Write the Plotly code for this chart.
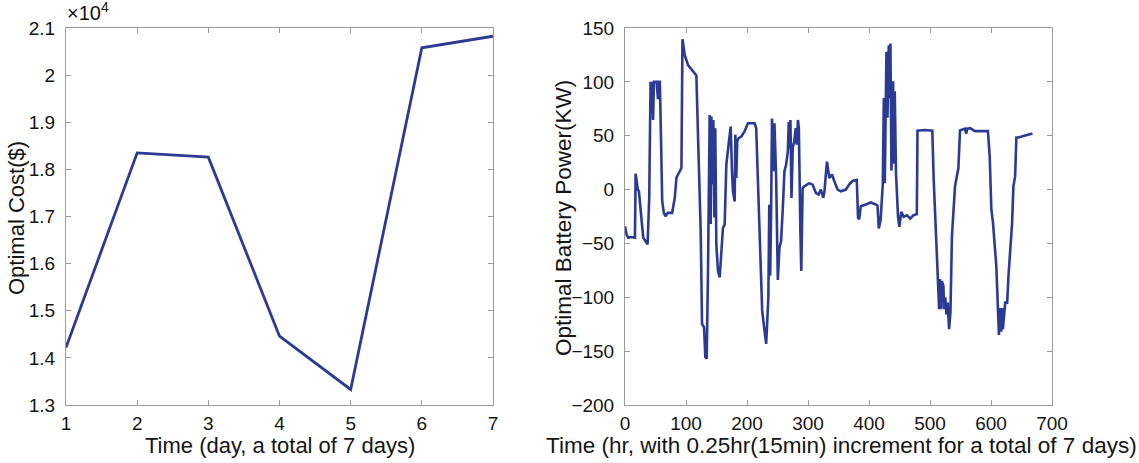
import plotly.graph_objects as go

# ---------------- data ----------------
days = [1, 2, 3, 4, 5, 6, 7]
optimal_cost = [14220, 18350, 18260, 14460, 13330, 20580, 20825]  # dollars
cost_scale = 1e4

time_idx = [0, 2.7, 5.4, 10, 16.3, 17.4, 19, 21, 22.8, 26, 29.9, 35.4, 37, 39.7, 41.9, 43, 44.5, 46,
            47.5, 52, 54, 55.5, 57.1, 58.8, 61, 63.7, 66.4, 70, 77.3, 81.6, 84.3, 87, 92.5, 94.2, 98,
            103.4, 111.6, 117, 119.8, 124.1, 126.3, 129.6, 131.7, 133.9, 136, 137.2, 138.8, 140.5,
            141.6, 143.2, 144.8, 146.5, 148, 149.7, 152.4, 155.2, 157.9, 160.6, 163.4, 166.1, 170.4,
            173.2, 175.4, 177, 179.8, 180.9, 182.5, 184, 186.3, 190.6, 196, 201.5, 212.4, 215.1,
            220.6, 224.9, 228.7, 231.4, 233, 235, 236.5, 238, 239.5, 241, 243, 245, 247.8, 250.5,
            253.2, 255.9, 258.7, 261.4, 264.1, 266.9, 268.5, 270, 271.2, 272.9, 275, 277.2, 280,
            281.5, 283.5, 285, 287.5, 289, 291.2, 294, 302, 307.5, 312.9, 317.3, 321, 325, 327, 331,
            335, 339.3, 343, 348.5, 354, 362, 367.5, 373, 380, 382, 383.9, 386.6, 394.8, 403, 411,
            414, 416, 419, 422.7, 424.3, 425.9, 427, 428.6, 430.3, 432.4, 434, 435.1, 436.8, 439.5,
            440.5, 442.2, 444.3, 447.6, 449.7, 453, 456.8, 462.2, 467.6, 473, 478.4, 479.5, 491.9,
            503.8, 506, 508.6, 511, 513, 515, 516.5, 518, 519.5, 522, 523, 525, 527, 529, 531.3,
            533.5, 536, 538, 541, 543.8, 546.5, 549.2, 552, 557, 559.5, 561, 566, 573.5, 595, 597.9,
            600.6, 603.3, 608.7, 611.4, 613, 614.5, 616.8, 618, 619.5, 623.3, 626.5, 628.6, 631.9,
            634.6, 636.7, 639.5, 641.6, 645, 654.6, 665.4, 668]
battery_power = [-34, -42, -44.7, -44, -44.7, 14.8, 8.5, 0, -1.6, -23, -44.7, -49.3, -51, -8, 100,
                 70.8, 100, 64.6, 100, 100, 84, 100, 100, 54, -11, -21.6, -24.7, -21.6, -21.6, -7.7,
                 10.8, 14, 20, 139.5, 124.7, 115.5, 109.3, 106, 47.7, -38.5, -124.8, -127.9, -155.6,
                 -157, -78.6, -7.7, 69.3, -32, 67.8, 5, 64.6, -26, 57, -50.8, -75.5, -81.6, -54,
                 -35.5, -32.4, 23, 44.7, 58.5, 17, -1.6, -11, 51, 10.8, 44.7, 47.7, 49.3, 54, 61.6,
                 61.6, 57, -38.5, -112.4, -130.9, -143.2, -124.8, -100, -14, -80, -20, 66, 17, 61.6,
                 10.8, -84, -53.9, -47.7, -16.9, 17, 23, 35.4, 63, 38.5, 64.6, -7.7, 38.5, 44.7, 57,
                 41.6, 64.6, 57, -38.5, -75.5, 1.5, 3, 6, 4.6, -3, -4.6, 0, -7.7, -1.6, 26, 10.8, 14,
                 8, 0, -1.6, 0, 4.6, 8, 9, -26, -27.7, -15.4, -13.8, -12, -13.8, -15, -36, -28.6, 5.8,
                 85, 5.8, 69.6, 128, 66.6, 134, 85, 135.6, 17.6, 100.5, 24, 91.3, 14.7, -25.3, -34.5,
                 -20.7, -25.3, -23.8, -26.9, -23.8, -22.8, 54.7, 55.3, 54.7, 10, -30, -61, -83, -111,
                 -83, -111, -85, -89.5, -111, -100, -116, -105, -129.5, -114, -43, -20, 3, 12, 19.8,
                 55, 55.5, 56.5, 52, 56.5, 57, 54.3, 54.3, 30.4, -18.7, -31, -71, -108, -135, -110,
                 -132, -110, -129.6, -105, -105, -80.5, -56, -31, 3, 12, 48.4, 48.4, 50, 51.5, 52]

left_xticks = [1, 2, 3, 4, 5, 6, 7]
left_yticks = [1.3, 1.4, 1.5, 1.6, 1.7, 1.8, 1.9, 2.0, 2.1]
right_xticks = [0, 100, 200, 300, 400, 500, 600, 700]
right_yticks = [-200, -150, -100, -50, 0, 50, 100, 150]

# ---------------- figure ----------------
W, H = 1139, 463
LINE = "#2b3b94"
BOX = "#9a9a9a"
FONT = "Liberation Sans, Arial, Helvetica, sans-serif"
TXT = "#151515"

fig = go.Figure()
fig.add_trace(go.Scatter(x=days, y=[c / cost_scale for c in optimal_cost], mode="lines",
                         line=dict(color=LINE, width=2.8), xaxis="x", yaxis="y",
                         showlegend=False))
fig.add_trace(go.Scatter(x=time_idx, y=battery_power, mode="lines",
                         line=dict(color=LINE, width=2.6), xaxis="x2", yaxis="y2",
                         showlegend=False))

def px_x(p):
    return p / W

def px_y(p):
    return 1 - p / H

axis_common = dict(showline=True, mirror="ticks", linecolor=BOX, linewidth=1,
                   ticks="inside", ticklen=5, tickcolor=BOX, tickwidth=1,
                   showgrid=False, zeroline=False, automargin=False,
                   tickfont=dict(family=FONT, size=19, color=TXT))

ydom = [px_y(405), px_y(28)]
fig.update_layout(
    width=W, height=H, margin=dict(l=0, r=0, t=0, b=0),
    paper_bgcolor="white", plot_bgcolor="white",
    font=dict(family=FONT, color=TXT),
    xaxis=dict(domain=[px_x(66), px_x(493)], range=[1, 7], tickvals=left_xticks,
               anchor="y", ticklabelstandoff=1, **axis_common),
    yaxis=dict(domain=ydom, range=[1.3, 2.1], tickvals=left_yticks,
               anchor="x", ticklabelstandoff=6, **axis_common),
    xaxis2=dict(domain=[px_x(625), px_x(1052)], range=[0, 700], tickvals=right_xticks,
                anchor="y2", ticklabelstandoff=1, **axis_common),
    yaxis2=dict(domain=ydom, range=[-200, 150], tickvals=right_yticks,
                anchor="x2", ticklabelstandoff=6, **axis_common),
)

title_font = dict(family=FONT, size=22, color=TXT)
fig.add_annotation(text="Time (day, a total of 7 days)", xref="paper", yref="paper",
                   x=px_x(280), y=px_y(445), xanchor="center", yanchor="middle",
                   showarrow=False, font=title_font)
fig.add_annotation(text="Time (hr, with 0.25hr(15min) increment for a total of 7 days)",
                   xref="paper", yref="paper", x=px_x(841), y=px_y(445),
                   xanchor="center", yanchor="middle", showarrow=False,
                   font=dict(family=FONT, size=22.5, color=TXT))
fig.add_annotation(text="Optimal Cost($)", xref="paper", yref="paper",
                   x=px_x(16), y=px_y(218), xanchor="center", yanchor="middle",
                   textangle=-90, showarrow=False, font=title_font)
fig.add_annotation(text="Optimal Battery Power(KW)", xref="paper", yref="paper",
                   x=px_x(563), y=px_y(218), xanchor="center", yanchor="middle",
                   textangle=-90, showarrow=False, font=dict(family=FONT, size=22.5, color=TXT))
fig.add_annotation(text="×10<sup>4</sup>", xref="paper", yref="paper",
                   x=px_x(65), y=px_y(26), xanchor="left", yanchor="bottom",
                   showarrow=False, font=dict(family=FONT, size=20, color=TXT))

fig.write_html("out.html")
